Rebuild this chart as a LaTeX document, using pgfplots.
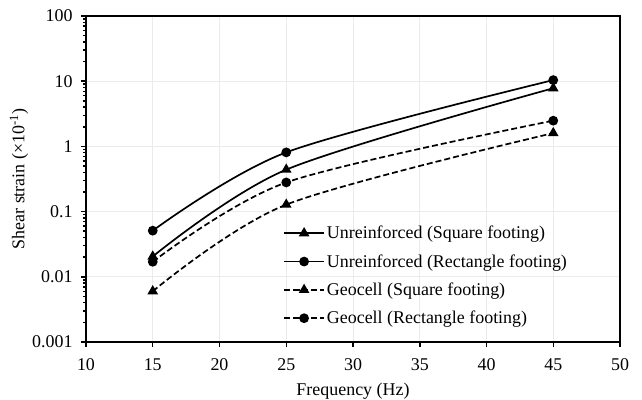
\documentclass[border=0pt]{standalone}
\usepackage{fontspec}
\setmainfont{Liberation Serif}
\usepackage{pgfplots}
\pgfplotsset{compat=1.18}
\begin{document}
\begin{tikzpicture}[font=\fontsize{18}{21}\selectfont]
\begin{axis}[
  font=\fontsize{18}{21}\selectfont,
  scale only axis, width=534bp, height=326bp,
  xmin=10, xmax=50, ymode=log, ymin=0.001, ymax=100,
  xtick={10,15,...,50},
  ytick={0.001,0.01,0.1,1,10,100},
  yticklabels={0.001,0.01,0.1,1,10,100},
  minor ytick={},
  /pgf/number format/assume math mode=true,
  xticklabel style={yshift=-8bp},
  yticklabel style={xshift=-5bp},
  axis line style={line width=2.2bp},
  tick style={line width=1.5bp, black},
  major tick length=5bp, tick align=outside,
  xtick pos=bottom, ytick pos=left,
  grid=major, major grid style={black!8, line width=0.8bp},
  xlabel={Frequency (Hz)},
  xlabel style={yshift=-6bp},
  ylabel={Shear strain (×10\textsuperscript{-1})},
  ylabel shift=-3bp,
  every axis plot/.append style={line width=1.7bp, black, smooth, tension=0.5},
  mark options={solid, fill=black},
  legend style={draw=none, fill=none, at={(0.369,0.362)}, anchor=north west,
    inner sep=0pt, row sep=10.2bp, nodes={inner sep=2bp}},
  legend cell align=left,
  legend image code/.code={\draw[#1, smooth=false, mark repeat=2, mark phase=2] plot coordinates {(0bp,0bp) (20bp,0bp) (40bp,0bp)};},
]
\addplot[mark=triangle*, mark size=4.5bp] coordinates {(15,0.0205) (25,0.44) (45,7.8)};
\addlegendentry{Unreinforced (Square footing)}
\addplot[mark=*, mark size=4bp] coordinates {(15,0.051) (25,0.81) (45,10.4)};
\addlegendentry{Unreinforced (Rectangle footing)}
\addplot[mark=triangle*, mark size=4.5bp, dash pattern=on 6bp off 3bp] coordinates {(15,0.006) (25,0.128) (45,1.6)};
\addlegendentry{Geocell (Square footing)}
\addplot[mark=*, mark size=4bp, dash pattern=on 6bp off 3bp] coordinates {(15,0.017) (25,0.28) (45,2.48)};
\addlegendentry{Geocell (Rectangle footing)}
\end{axis}
\pgfresetboundingbox
\path[use as bounding box] (current axis.south west) ++(-86bp,-58bp) rectangle ([xshift=22bp,yshift=16bp]current axis.north east);
\end{tikzpicture}
\end{document}
